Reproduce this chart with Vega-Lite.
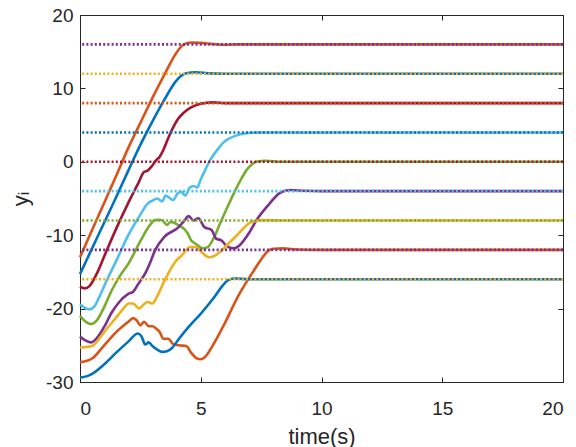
{
  "$schema": "https://vega.github.io/schema/vega-lite/v6.json",
  "width": 483,
  "height": 367,
  "autosize": {"type": "none"},
  "padding": {"left": 80, "top": 15, "right": 13, "bottom": 65},
  "background": "white",
  "config": {
    "view": {"stroke": "#262626", "strokeWidth": 1},
    "axis": {
      "grid": false,
      "domainColor": "#262626",
      "tickColor": "#262626",
      "labelColor": "#262626",
      "titleColor": "#262626",
      "labelFont": "Liberation Sans",
      "titleFont": "Liberation Sans",
      "labelFontSize": 19,
      "titleFontSize": 22,
      "titleFontWeight": "normal",
      "tickSize": -5
    }
  },
  "datasets": {
    "curves": [
      {"s":"c16","t":0,"y":-13},{"s":"c16","t":0.5,"y":-9.3},{"s":"c16","t":1,"y":-5.6},{"s":"c16","t":1.5,"y":-1.9},{"s":"c16","t":2,"y":1.9},{"s":"c16","t":2.5,"y":5.3},{"s":"c16","t":3,"y":8.7},{"s":"c16","t":3.5,"y":11.9},{"s":"c16","t":4,"y":14.9},{"s":"c16","t":4.3,"y":16.0},{"s":"c16","t":4.6,"y":16.25},{"s":"c16","t":5,"y":16.2},{"s":"c16","t":5.5,"y":16.05},{"s":"c16","t":6,"y":15.95},{"s":"c16","t":6.5,"y":16},{"s":"c16","t":20,"y":16},
      {"s":"c12","t":0,"y":-15.3},{"s":"c12","t":0.5,"y":-11.8},{"s":"c12","t":1,"y":-8.3},{"s":"c12","t":1.5,"y":-4.8},{"s":"c12","t":2,"y":-1.2},{"s":"c12","t":2.5,"y":2.3},{"s":"c12","t":3,"y":5.5},{"s":"c12","t":3.5,"y":8.5},{"s":"c12","t":4,"y":11.1},{"s":"c12","t":4.4,"y":12.05},{"s":"c12","t":4.8,"y":12.2},{"s":"c12","t":5.3,"y":12.05},{"s":"c12","t":6,"y":12},{"s":"c12","t":20,"y":12},
      {"s":"c8","t":0,"y":-17},{"s":"c8","t":0.2,"y":-17.25},{"s":"c8","t":0.4,"y":-16.9},{"s":"c8","t":0.7,"y":-15.2},{"s":"c8","t":1,"y":-12.9},{"s":"c8","t":1.5,"y":-9.1},{"s":"c8","t":2,"y":-5.6},{"s":"c8","t":2.4,"y":-3},{"s":"c8","t":2.65,"y":-1.4},{"s":"c8","t":2.8,"y":-1.2},{"s":"c8","t":2.95,"y":-0.7},{"s":"c8","t":3.15,"y":0.2},{"s":"c8","t":3.3,"y":0.7},{"s":"c8","t":3.45,"y":1.6},{"s":"c8","t":3.6,"y":2.8},{"s":"c8","t":3.8,"y":4.3},{"s":"c8","t":4.05,"y":5.8},{"s":"c8","t":4.3,"y":6.7},{"s":"c8","t":4.6,"y":7.4},{"s":"c8","t":5,"y":7.9},{"s":"c8","t":5.5,"y":8.1},{"s":"c8","t":6,"y":8},{"s":"c8","t":20,"y":8},
      {"s":"c4","t":0,"y":-19.4},{"s":"c4","t":0.2,"y":-19.9},{"s":"c4","t":0.4,"y":-20.1},{"s":"c4","t":0.6,"y":-19.7},{"s":"c4","t":0.8,"y":-18.4},{"s":"c4","t":1.1,"y":-16.2},{"s":"c4","t":1.5,"y":-13.5},{"s":"c4","t":2,"y":-10},{"s":"c4","t":2.5,"y":-7.2},{"s":"c4","t":2.8,"y":-5.7},{"s":"c4","t":3.0,"y":-5.3},{"s":"c4","t":3.2,"y":-5.0},{"s":"c4","t":3.4,"y":-5.4},{"s":"c4","t":3.55,"y":-4.6},{"s":"c4","t":3.7,"y":-4.9},{"s":"c4","t":3.85,"y":-5.2},{"s":"c4","t":4.05,"y":-4.3},{"s":"c4","t":4.2,"y":-4.1},{"s":"c4","t":4.35,"y":-4.6},{"s":"c4","t":4.55,"y":-3.5},{"s":"c4","t":4.7,"y":-3.3},{"s":"c4","t":4.85,"y":-3.5},{"s":"c4","t":5.0,"y":-2.4},{"s":"c4","t":5.2,"y":-1.0},{"s":"c4","t":5.4,"y":0.3},{"s":"c4","t":5.7,"y":1.7},{"s":"c4","t":6.0,"y":2.8},{"s":"c4","t":6.4,"y":3.5},{"s":"c4","t":6.9,"y":3.9},{"s":"c4","t":7.5,"y":4},{"s":"c4","t":20,"y":4},
      {"s":"c0","t":0,"y":-21},{"s":"c0","t":0.2,"y":-21.7},{"s":"c0","t":0.45,"y":-22.1},{"s":"c0","t":0.7,"y":-21.6},{"s":"c0","t":1,"y":-19.8},{"s":"c0","t":1.3,"y":-17.6},{"s":"c0","t":1.7,"y":-15.3},{"s":"c0","t":2.0,"y":-13.9},{"s":"c0","t":2.5,"y":-10.8},{"s":"c0","t":2.9,"y":-8.6},{"s":"c0","t":3.1,"y":-7.95},{"s":"c0","t":3.3,"y":-7.9},{"s":"c0","t":3.45,"y":-8.1},{"s":"c0","t":3.6,"y":-8.6},{"s":"c0","t":3.75,"y":-8.2},{"s":"c0","t":3.9,"y":-8.3},{"s":"c0","t":4.05,"y":-8.6},{"s":"c0","t":4.3,"y":-9.1},{"s":"c0","t":4.45,"y":-9.7},{"s":"c0","t":4.6,"y":-10.7},{"s":"c0","t":4.8,"y":-11.2},{"s":"c0","t":5.1,"y":-11.8},{"s":"c0","t":5.3,"y":-11.6},{"s":"c0","t":5.55,"y":-10.3},{"s":"c0","t":5.8,"y":-8.4},{"s":"c0","t":6.1,"y":-6.2},{"s":"c0","t":6.4,"y":-4.1},{"s":"c0","t":6.7,"y":-2.2},{"s":"c0","t":6.9,"y":-1.1},{"s":"c0","t":7.1,"y":-0.4},{"s":"c0","t":7.3,"y":0},{"s":"c0","t":7.7,"y":0.15},{"s":"c0","t":8.3,"y":0},{"s":"c0","t":20,"y":0},
      {"s":"cm4","t":0,"y":-23.8},{"s":"cm4","t":0.2,"y":-24.3},{"s":"cm4","t":0.45,"y":-24.6},{"s":"cm4","t":0.7,"y":-24},{"s":"cm4","t":1,"y":-22.5},{"s":"cm4","t":1.3,"y":-20.6},{"s":"cm4","t":1.6,"y":-19.2},{"s":"cm4","t":2.0,"y":-18},{"s":"cm4","t":2.2,"y":-17.7},{"s":"cm4","t":2.4,"y":-16.7},{"s":"cm4","t":2.7,"y":-15.2},{"s":"cm4","t":2.9,"y":-13.8},{"s":"cm4","t":3.1,"y":-12.1},{"s":"cm4","t":3.5,"y":-10.2},{"s":"cm4","t":4.05,"y":-9.0},{"s":"cm4","t":4.3,"y":-8.1},{"s":"cm4","t":4.5,"y":-7.4},{"s":"cm4","t":4.7,"y":-8.0},{"s":"cm4","t":4.9,"y":-7.7},{"s":"cm4","t":5.15,"y":-8.9},{"s":"cm4","t":5.45,"y":-9.3},{"s":"cm4","t":5.65,"y":-10.5},{"s":"cm4","t":5.85,"y":-10.7},{"s":"cm4","t":6.05,"y":-11.4},{"s":"cm4","t":6.35,"y":-11.8},{"s":"cm4","t":6.6,"y":-11.4},{"s":"cm4","t":7.0,"y":-9.7},{"s":"cm4","t":7.3,"y":-8.0},{"s":"cm4","t":7.85,"y":-5.7},{"s":"cm4","t":8.25,"y":-4.3},{"s":"cm4","t":8.7,"y":-3.85},{"s":"cm4","t":9.3,"y":-3.95},{"s":"cm4","t":10,"y":-4},{"s":"cm4","t":20,"y":-4},
      {"s":"cm8","t":0,"y":-25.3},{"s":"cm8","t":0.5,"y":-25.1},{"s":"cm8","t":0.75,"y":-24.3},{"s":"cm8","t":1,"y":-23.2},{"s":"cm8","t":1.5,"y":-21.2},{"s":"cm8","t":1.85,"y":-19.8},{"s":"cm8","t":2.0,"y":-19.3},{"s":"cm8","t":2.2,"y":-19.3},{"s":"cm8","t":2.45,"y":-20.0},{"s":"cm8","t":2.65,"y":-19.4},{"s":"cm8","t":2.8,"y":-19.1},{"s":"cm8","t":3.0,"y":-19.3},{"s":"cm8","t":3.2,"y":-18.3},{"s":"cm8","t":3.5,"y":-16.2},{"s":"cm8","t":4.0,"y":-13.4},{"s":"cm8","t":4.2,"y":-12.8},{"s":"cm8","t":4.55,"y":-11.6},{"s":"cm8","t":4.8,"y":-11.6},{"s":"cm8","t":5.0,"y":-12.2},{"s":"cm8","t":5.35,"y":-13.0},{"s":"cm8","t":5.8,"y":-12.3},{"s":"cm8","t":6.1,"y":-11.3},{"s":"cm8","t":6.5,"y":-10.0},{"s":"cm8","t":7.1,"y":-8.2},{"s":"cm8","t":7.6,"y":-7.95},{"s":"cm8","t":8.5,"y":-8},{"s":"cm8","t":20,"y":-8},
      {"s":"cm12","t":0,"y":-27.3},{"s":"cm12","t":0.3,"y":-27.1},{"s":"cm12","t":0.5,"y":-26.8},{"s":"cm12","t":1.0,"y":-25},{"s":"cm12","t":1.5,"y":-23.2},{"s":"cm12","t":2.0,"y":-21.8},{"s":"cm12","t":2.2,"y":-21.3},{"s":"cm12","t":2.35,"y":-21.6},{"s":"cm12","t":2.5,"y":-22.3},{"s":"cm12","t":2.65,"y":-21.8},{"s":"cm12","t":2.85,"y":-22.4},{"s":"cm12","t":3.0,"y":-22.4},{"s":"cm12","t":3.15,"y":-22.7},{"s":"cm12","t":3.3,"y":-23.2},{"s":"cm12","t":3.45,"y":-24.1},{"s":"cm12","t":3.65,"y":-24.1},{"s":"cm12","t":3.85,"y":-24.8},{"s":"cm12","t":4.1,"y":-25.0},{"s":"cm12","t":4.4,"y":-25.1},{"s":"cm12","t":4.6,"y":-26},{"s":"cm12","t":4.8,"y":-26.7},{"s":"cm12","t":5.0,"y":-26.9},{"s":"cm12","t":5.2,"y":-26.5},{"s":"cm12","t":5.5,"y":-25},{"s":"cm12","t":5.9,"y":-22.6},{"s":"cm12","t":6.6,"y":-18},{"s":"cm12","t":7.2,"y":-14.8},{"s":"cm12","t":7.5,"y":-13.3},{"s":"cm12","t":7.8,"y":-12.1},{"s":"cm12","t":8.0,"y":-11.85},{"s":"cm12","t":8.4,"y":-11.8},{"s":"cm12","t":9,"y":-11.95},{"s":"cm12","t":10,"y":-12},{"s":"cm12","t":20,"y":-12},
      {"s":"cm16","t":0,"y":-29.4},{"s":"cm16","t":0.3,"y":-29.2},{"s":"cm16","t":0.5,"y":-28.9},{"s":"cm16","t":1.0,"y":-27.6},{"s":"cm16","t":1.5,"y":-26},{"s":"cm16","t":2.0,"y":-24.5},{"s":"cm16","t":2.4,"y":-23.4},{"s":"cm16","t":2.55,"y":-23.8},{"s":"cm16","t":2.7,"y":-24.9},{"s":"cm16","t":2.85,"y":-24.6},{"s":"cm16","t":3.0,"y":-25.1},{"s":"cm16","t":3.2,"y":-25.6},{"s":"cm16","t":3.4,"y":-25.9},{"s":"cm16","t":3.6,"y":-25.8},{"s":"cm16","t":3.8,"y":-25.4},{"s":"cm16","t":4.1,"y":-24.1},{"s":"cm16","t":4.5,"y":-22.5},{"s":"cm16","t":5.0,"y":-20.7},{"s":"cm16","t":5.5,"y":-18.7},{"s":"cm16","t":5.9,"y":-16.9},{"s":"cm16","t":6.1,"y":-16.2},{"s":"cm16","t":6.4,"y":-15.9},{"s":"cm16","t":7,"y":-16},{"s":"cm16","t":20,"y":-16}
    ],
    "refs": [
      {"s":"r16","y":16},{"s":"r12","y":12},{"s":"r8","y":8},{"s":"r4","y":4},{"s":"r0","y":0},{"s":"rm4","y":-4},{"s":"rm8","y":-8},{"s":"rm12","y":-12},{"s":"rm16","y":-16}
    ]
  },
  "layer": [
    {
      "data": {"name": "curves"},
      "mark": {"type": "line", "strokeWidth": 2.6, "interpolate": "monotone"},
      "encoding": {
        "x": {"field": "t", "type": "quantitative", "scale": {"domain": [0, 20], "nice": false},
              "axis": {"values": [0,5,10,15,20], "title": "time(s)", "labelPadding": 22, "titlePadding": 8}},
        "y": {"field": "y", "type": "quantitative", "scale": {"domain": [-30, 20], "nice": false},
              "axis": {"values": [-30,-20,-10,0,10,20], "title": "yᵢ", "labelPadding": 12, "titlePadding": 13,
                       "labelExpr": "replace(datum.label, '−', '-')"}},
        "color": {"field": "s", "type": "nominal", "legend": null,
          "scale": {
            "domain": ["c16","c12","c8","c4","c0","cm4","cm8","cm12","cm16","r16","r12","r8","r4","r0","rm4","rm8","rm12","rm16"],
            "range": ["#D95319","#0072BD","#A2142F","#4DBEEE","#77AC30","#7E2F8E","#EDB120","#D95319","#0072BD","#7E2F8E","#EDB120","#D95319","#0072BD","#A2142F","#4DBEEE","#77AC30","#7E2F8E","#EDB120"]
          }},
        "detail": {"field": "s"}
      }
    },
    {
      "data": {"name": "refs"},
      "mark": {"type": "rule", "strokeWidth": 2.6, "strokeDash": [2, 2.2]},
      "encoding": {
        "y": {"field": "y", "type": "quantitative", "axis": null},
        "color": {"field": "s", "type": "nominal", "legend": null}
      }
    },
    {
      "data": {"name": "curves"},
      "mark": {"type": "point", "opacity": 0},
      "encoding": {
        "x": {"field": "t", "type": "quantitative", "axis": {"orient": "top", "values": [0,5,10,15,20], "labels": false, "title": null, "domain": false}},
        "y": {"field": "y", "type": "quantitative", "axis": {"orient": "right", "values": [-30,-20,-10,0,10,20], "labels": false, "title": null, "domain": false}}
      }
    }
  ],
  "resolve": {"axis": {"x": "independent", "y": "independent"}}
}
